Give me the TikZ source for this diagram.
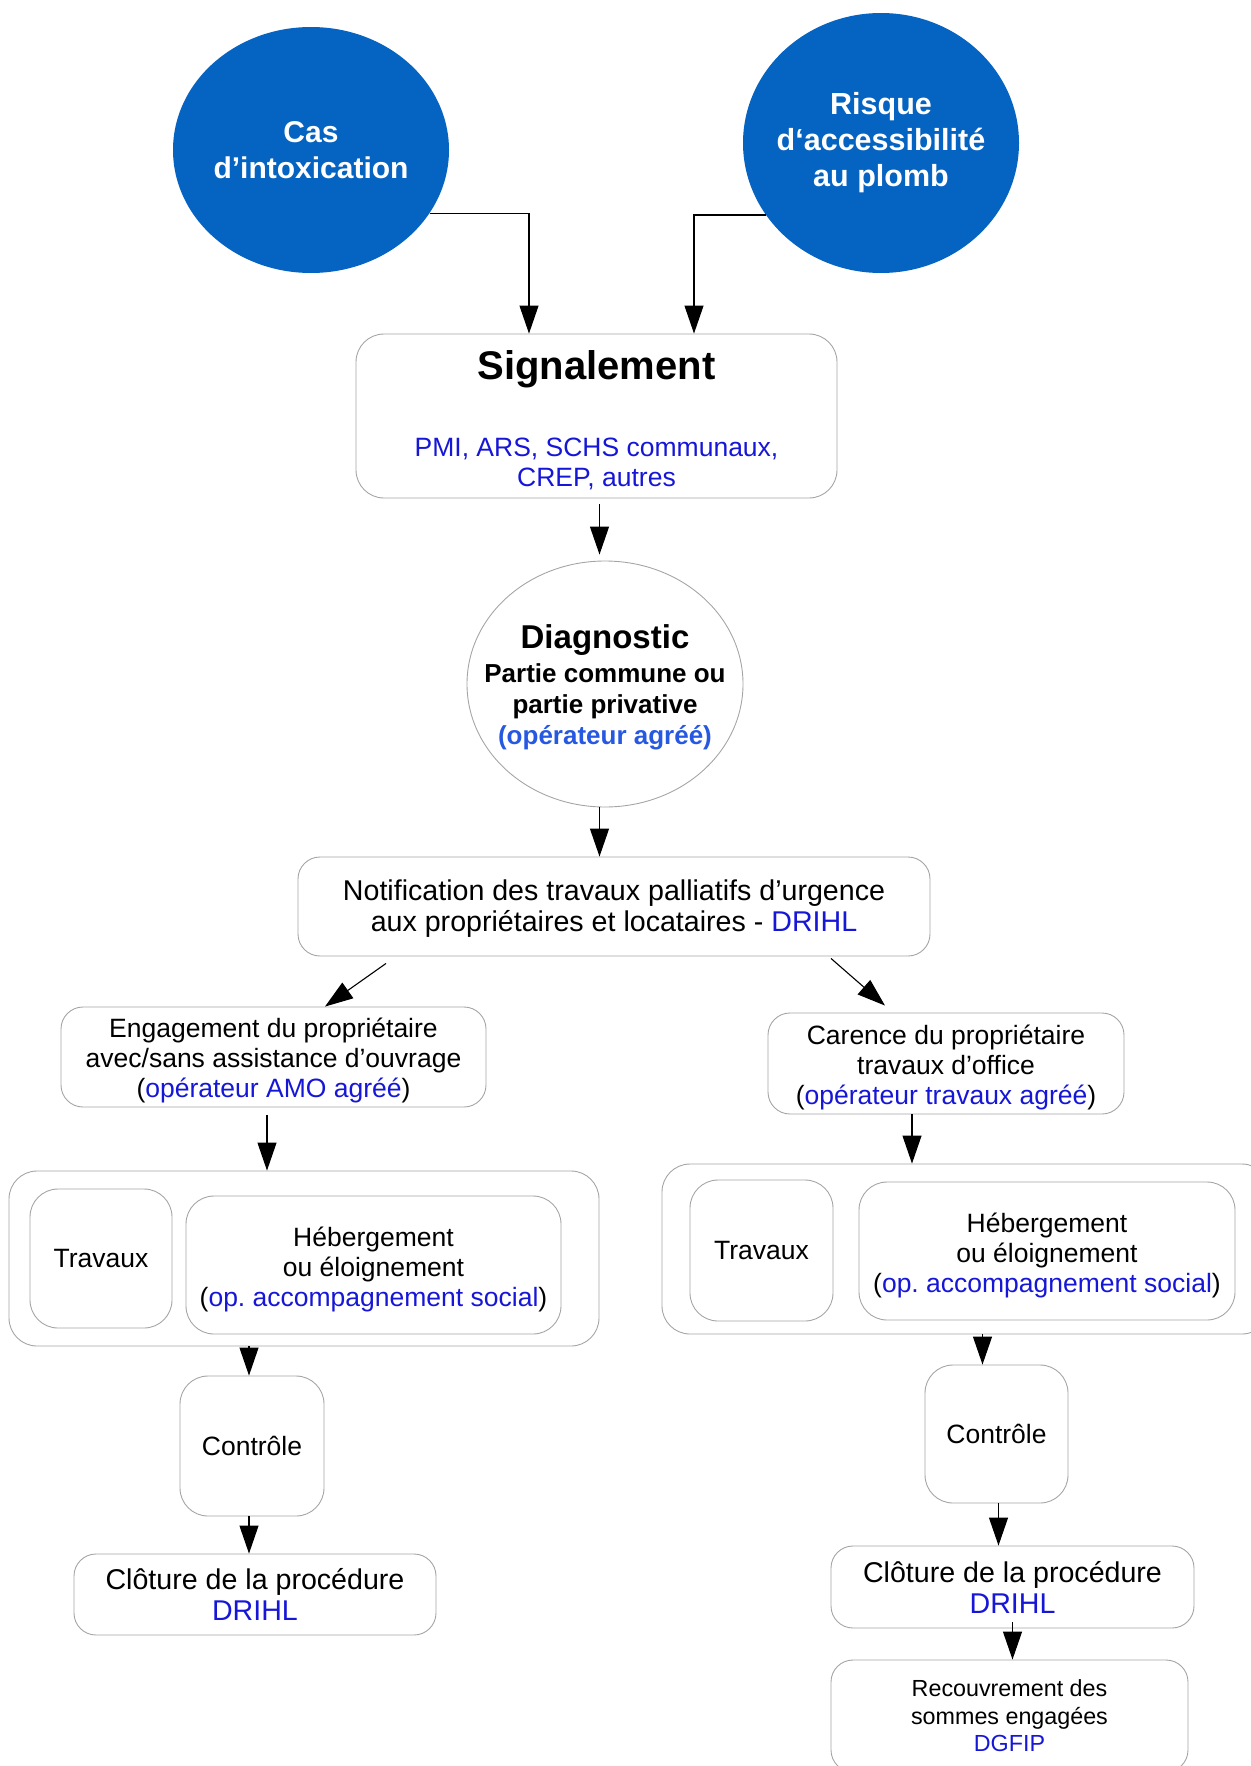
\documentclass[tikz,border=0pt]{standalone}
\usepackage{fontspec}
\setmainfont{Liberation Sans}
\usepackage{xcolor}
\usepackage{tikz}
\usetikzlibrary{shapes.geometric}
\usetikzlibrary{arrows.meta}

\definecolor{circblue}{RGB}{5,99,193}
\definecolor{txtblue}{RGB}{22,22,215}
\definecolor{diagblue}{RGB}{38,88,225}
\definecolor{boxgray}{RGB}{165,165,165}

\newcommand{\hautligne}[1]{\rule{0pt}{#1}}
\frenchspacing

\begin{document}
\begin{tikzpicture}[x=1pt,y=-1pt,
    box/.style={draw=boxgray, line width=0.9pt, rounded corners=22pt, align=center, inner sep=0pt},
    rond/.style={ellipse, align=center, inner ysep=0pt, minimum width=276pt},
    arr/.style={-{Triangle[length=28pt,width=19pt]}, line width=1.1pt},
    fbig/.style={font=\fontsize{28.6}{31}\selectfont},
    fmid/.style={font=\fontsize{26.5}{30}\selectfont}]
  \useasboundingbox (0,0) rectangle (1250,1766);
    \node[rond, inner xsep=-14pt, fill=circblue, text=white, minimum height=246pt,
      font=\fontsize{30}{36}\selectfont\bfseries] (cas) at (311,150) {Cas\\d’intoxication};
    \node[rond, inner xsep=-16pt, fill=circblue, text=white, minimum height=260pt,
      font=\fontsize{30.5}{36}\selectfont\bfseries] (risque) at (881,143) {Risque\\d‘accessibilité\\au plomb};
    \node[box, fmid, rounded corners=28pt, minimum width=481pt, minimum height=164pt] (sig) at (596.5,416)
      {\hautligne{37pt}{\fontsize{40}{44}\selectfont\bfseries Signalement}\\[47pt]
       \textcolor{txtblue}{PMI, ARS, SCHS communaux,}\\\textcolor{txtblue}{CREP, autres}};
    \node[rond, inner xsep=-27pt, draw=boxgray, line width=0.9pt, minimum height=246pt,
      font=\fontsize{26}{31}\selectfont\bfseries] (diag) at (605,684)
      {\hautligne{30pt}{\fontsize{33}{37}\selectfont Diagnostic}\\[3pt]Partie commune ou\\partie privative\\
       \textcolor{diagblue}{(opérateur agréé)}};
    \node[box, fbig, minimum width=632pt, minimum height=99pt] (notif) at (614,906.5)
      {\hautligne{25pt}Notification des travaux palliatifs d’urgence\\aux propriétaires et locataires - \textcolor{txtblue}{DRIHL}};
    \node[box, fmid, minimum width=425pt, minimum height=100pt] (eng) at (273.5,1057)
      {\hautligne{27pt}Engagement du propriétaire\\avec/sans assistance d’ouvrage\\(\textcolor{txtblue}{opérateur AMO agréé})};
    \node[box, fmid, minimum width=356pt, minimum height=101pt] (car) at (946,1063.5)
      {\hautligne{27pt}Carence du propriétaire\\travaux d’office\\(\textcolor{txtblue}{opérateur travaux agréé})};
    % groupes travaux / hebergement
    \node[box, rounded corners=28pt, minimum width=590pt, minimum height=175pt] (grpL) at (304,1258.5) {};
    \node[box, fmid, rounded corners=28pt, minimum width=142pt, minimum height=139pt] (travL) at (101,1258.5) {Travaux};
    \node[box, fmid, rounded corners=28pt, minimum width=375pt, minimum height=138pt] (hebL) at (373.5,1265)
      {\hautligne{28pt}Hébergement\\ou éloignement\\(\textcolor{txtblue}{op. accompagnement social})};
    \node[box, rounded corners=28pt, minimum width=608pt, minimum height=170pt] (grpR) at (966,1249) {};
    \node[box, fmid, rounded corners=28pt, minimum width=143pt, minimum height=141pt] (travR) at (761.5,1250.5) {Travaux};
    \node[box, fmid, rounded corners=28pt, minimum width=376pt, minimum height=138pt] (hebR) at (1047,1251)
      {\hautligne{28pt}Hébergement\\ou éloignement\\(\textcolor{txtblue}{op. accompagnement social})};
    \node[box, fmid, rounded corners=28pt, minimum width=144pt, minimum height=140pt] (ctlL) at (252,1446) {Contrôle};
    \node[box, fbig, minimum width=362pt, minimum height=81pt] (clotL) at (255,1594.5)
      {Clôture de la procédure\\\textcolor{txtblue}{DRIHL}};
    \node[box, fmid, rounded corners=28pt, minimum width=143pt, minimum height=138pt] (ctlR) at (996.5,1434) {Contrôle};
    \node[box, fbig, minimum width=363pt, minimum height=82pt] (clotR) at (1012.5,1587)
      {Clôture de la procédure\\\textcolor{txtblue}{DRIHL}};
    \node[box, font=\fontsize{23.3}{27.5}\selectfont, minimum width=357pt, minimum height=112pt] (recv) at (1009.5,1716)
      {Recouvrement des\\sommes engagées\\\textcolor{txtblue}{DGFIP}};
    % fleches
    \draw[arr] (cas.-28) -| ([xshift=-67.5pt]sig.north);
    \draw[arr] (risque.-148) -| ([xshift=97.5pt]sig.north);
    \draw[arr] ([shift={(3pt,-6pt)}]sig.south) -- ([xshift=3pt,yshift=6pt]sig.south |- diag.north);
    \draw[arr] ([xshift=3pt]sig.south |- diag.south) -- ([xshift=3pt]sig.south |- notif.north);
    \draw[arr] ([shift={(-228pt,-7pt)}]notif.south) -- ([xshift=51.5pt]eng.north);
    \draw[arr] ([shift={(217pt,-2pt)}]notif.south) -- ([shift={(-61pt,7pt)}]car.north);
    \draw[arr] ([shift={(-6.5pt,-8pt)}]eng.south) -- ([xshift=-6.5pt]eng.south |- grpL.north);
    \draw[arr] ([xshift=-34pt]car.south) -- ([xshift=-34pt]car.south |- grpR.north);
    \draw[arr] ([xshift=-3pt]ctlL.north |- grpL.south) -- ([xshift=-3pt]ctlL.north);
    \draw[arr] ([xshift=-3pt]ctlL.south) -- ([xshift=-3pt]ctlL.south |- clotL.north);
    \draw[arr] ([xshift=-14pt]ctlR.north |- grpR.south) -- ([xshift=-14pt]ctlR.north);
    \draw[arr] ([xshift=2pt]ctlR.south) -- ([xshift=2pt]ctlR.south |- clotR.north);
    \draw[arr] ([yshift=6pt]clotR.south) -- (clotR.south |- recv.north);
\end{tikzpicture}
\end{document}
